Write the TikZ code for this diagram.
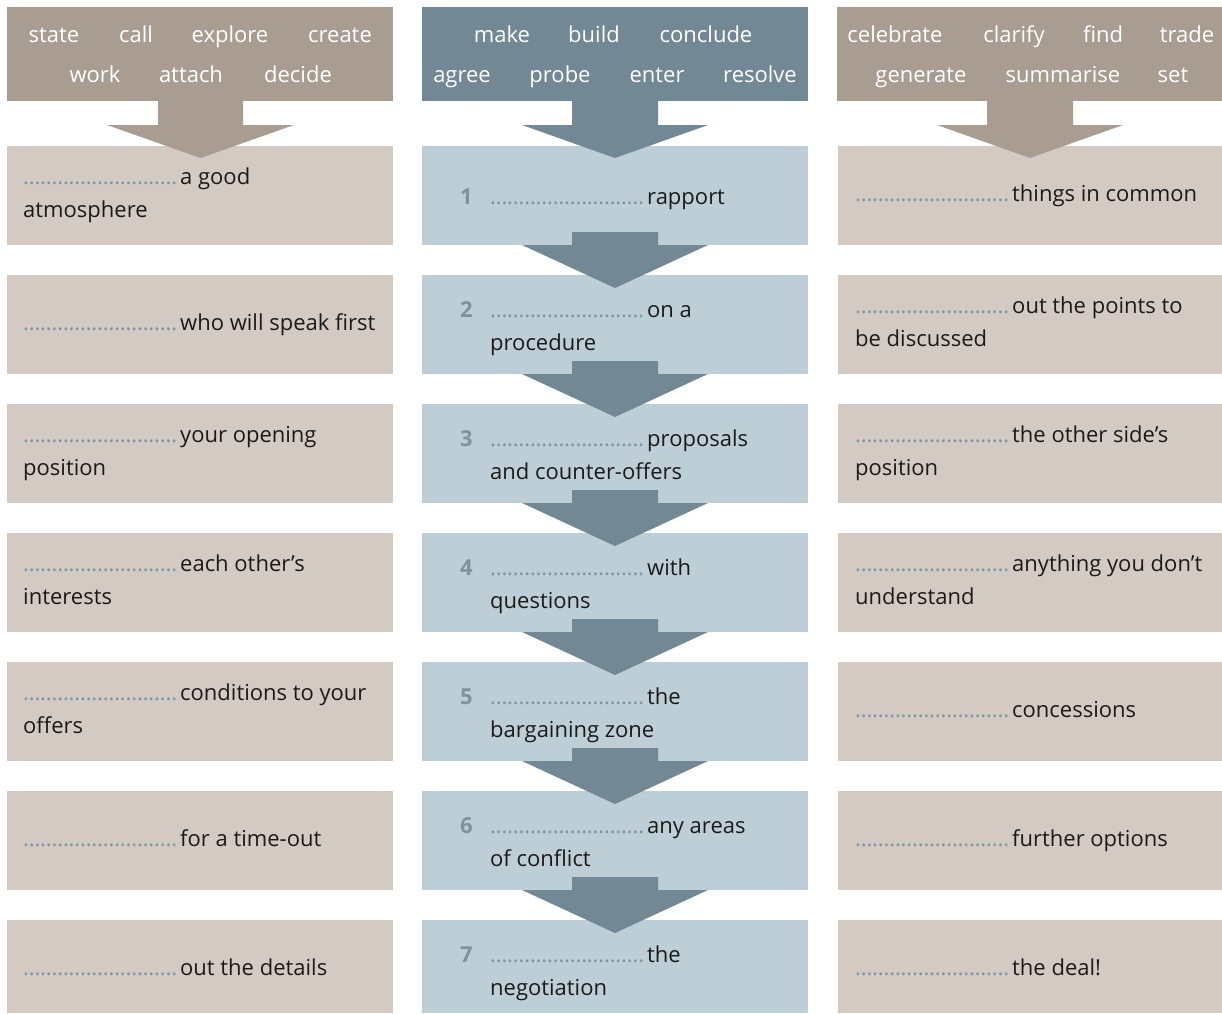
\documentclass[tikz,border=0pt]{standalone}
\usepackage{fontspec}
\setmainfont{Open Sans}
\definecolor{tanH}{HTML}{A99D92}
\definecolor{tanB}{HTML}{D4CAC4}
\definecolor{bluH}{HTML}{738895}
\definecolor{bluB}{HTML}{BECED6}
\definecolor{numc}{HTML}{7F929D}
\definecolor{dotc}{HTML}{7D95A3}
\definecolor{inkc}{HTML}{1A1A1A}
\newcommand\blank{\hbox to 154pt{\color{dotc}\leaders\hbox to 5.7pt{\hss.\hss}\hfill}\kern3pt}
\tikzset{
  box/.style={anchor=north west, inner sep=0pt, outer sep=0pt, minimum width=386pt, minimum height=99pt, draw=none},
  hdr/.style={anchor=north west, inner sep=0pt, minimum width=386pt, minimum height=94pt, draw=none},
  hw/.style={anchor=base, inner sep=0pt, text=white, font=\fontsize{22}{26}\selectfont},
  txt/.style={anchor=base west, inner sep=0pt, align=left, text=inkc, font=\fontsize{22}{33}\selectfont},
  num/.style={anchor=base west, inner sep=0pt, text=numc, font=\fontsize{22}{33}\selectfont\bfseries},
}
\begin{document}
\begin{tikzpicture}[x=1pt,y=-1pt]
\useasboundingbox (0,0) rectangle (1222,1013);
% headers
\node[hdr, fill=tanH] (hL) at (7,7) {};
\node[hdr, fill=bluH] (hM) at (422,7) {};
\node[hdr, fill=tanH] (hR) at (837,7) {};
% header words
\node[hw] (wl1) at (54,42) {state};
\node[hw] (wl2) at (136,42) {call};
\node[hw] (wl3) at (230,42) {explore};
\node[hw] (wl4) at (340,42) {create};
\node[hw] (wl5) at (95,82) {work};
\node[hw] (wl6) at (191,82) {attach};
\node[hw] (wl7) at (298,82) {decide};
\node[hw] (wm1) at (502,42) {make};
\node[hw] (wm2) at (594,42) {build};
\node[hw] (wm3) at (706,42) {conclude};
\node[hw] (wm4) at (462,82) {agree};
\node[hw] (wm5) at (560,82) {probe};
\node[hw] (wm6) at (657,82) {enter};
\node[hw] (wm7) at (760,82) {resolve};
\node[hw] (wr1) at (895,42) {celebrate};
\node[hw] (wr2) at (1014,42) {clarify};
\node[hw] (wr3) at (1103,42) {find};
\node[hw] (wr4) at (1187,42) {trade};
\node[hw] (wr5) at (921,82) {generate};
\node[hw] (wr6) at (1063,82) {summarise};
\node[hw] (wr7) at (1173,82) {set};
% boxes
\foreach \i in {1,...,6} {
  \pgfmathsetmacro{\t}{146+129*(\i-1)}
  \node[box, fill=tanB] (L\i) at (7,\t) {};
  \node[box, fill=bluB] (M\i) at (422,\t) {};
  \node[box, fill=tanB] (R\i) at (838,\t) {};
}
\node[box, fill=tanB, minimum height=93pt] (L7) at (7,920) {};
\node[box, fill=bluB, minimum height=93pt] (M7) at (422,920) {};
\node[box, fill=tanB, minimum height=93pt] (R7) at (838,920) {};
% header arrows
\fill[tanH] (158,101) -- (243,101) -- (243,125) -- (294,125) -- (200.5,158) -- (107,125) -- (158,125) -- cycle;
\fill[bluH] (572,101) -- (658,101) -- (658,125) -- (708,125) -- (615,158) -- (522,125) -- (572,125) -- cycle;
\fill[tanH] (987,101) -- (1073,101) -- (1073,125) -- (1123,125) -- (1030,158) -- (937,125) -- (987,125) -- cycle;
% middle arrows
\foreach \i in {1,...,6} {
  \pgfmathsetmacro{\b}{245+129*(\i-1)}
  \fill[bluH] (572,\b-13) -- (658,\b-13) -- (658,\b) -- (708,\b) -- (615,\b+43) -- (522,\b) -- (572,\b) -- cycle;
}
% left texts (base anchor = last line)
\node[txt] (tL1) at (23,217.5) {\blank a good\\atmosphere};
\node[txt] (tL2) at (23,330.5) {\blank who will speak first};
\node[txt] (tL3) at (23,475.5) {\blank your opening\\position};
\node[txt] (tL4) at (23,604.5) {\blank each other’s\\interests};
\node[txt] (tL5) at (23,733.5) {\blank conditions to your\\offers};
\node[txt] (tL6) at (23,846.5) {\blank for a time-out};
\node[txt] (tL7) at (23,975.5) {\blank out the details};
% middle texts
\node[num] (n1) at (460,204.5) {1};
\node[txt] (tM1) at (490,204.5) {\blank rapport};
\node[num] (n2) at (460,317.5) {2};
\node[txt] (tM2) at (490,350.5) {\blank on a\\procedure};
\node[num] (n3) at (460,446.5) {3};
\node[txt] (tM3) at (490,479.5) {\blank proposals\\and counter-offers};
\node[num] (n4) at (460,575.5) {4};
\node[txt] (tM4) at (490,608.5) {\blank with\\questions};
\node[num] (n5) at (460,704.5) {5};
\node[txt] (tM5) at (490,737.5) {\blank the\\bargaining zone};
\node[num] (n6) at (460,833.5) {6};
\node[txt] (tM6) at (490,866.5) {\blank any areas\\of conflict};
\node[num] (n7) at (460,962.5) {7};
\node[txt] (tM7) at (490,995.5) {\blank the\\negotiation};
% right texts
\node[txt] (tR1) at (855,201.5) {\blank things in common};
\node[txt] (tR2) at (855,346.5) {\blank out the points to\\be discussed};
\node[txt] (tR3) at (855,475.5) {\blank the other side’s\\position};
\node[txt] (tR4) at (855,604.5) {\blank anything you don’t\\understand};
\node[txt] (tR5) at (855,717.5) {\blank concessions};
\node[txt] (tR6) at (855,846.5) {\blank further options};
\node[txt] (tR7) at (855,975.5) {\blank the deal!};
\end{tikzpicture}
\end{document}
